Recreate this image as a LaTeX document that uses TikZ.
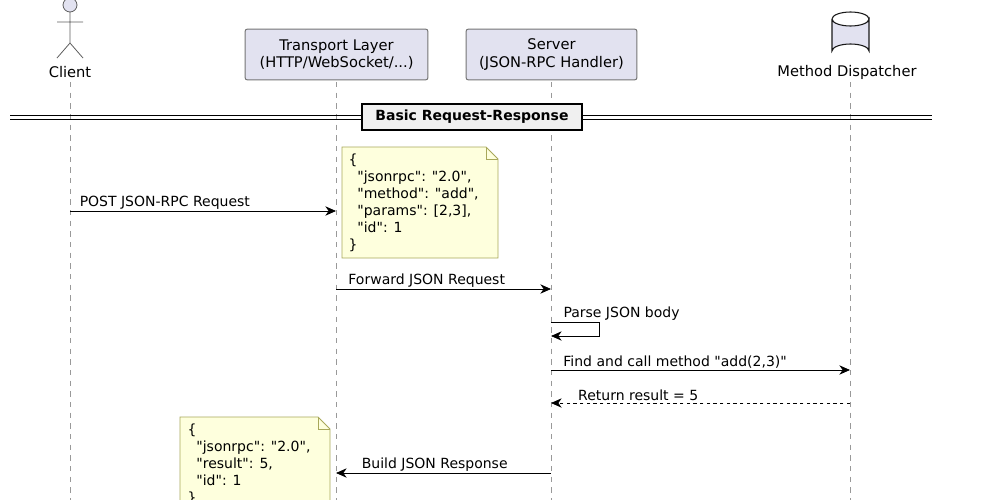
\documentclass[tikz,border=0pt]{standalone}
\usepackage{fontspec}
\setmainfont{DejaVu Sans}
\usetikzlibrary{arrows.meta,positioning}
\definecolor{partfill}{HTML}{E2E2F0}
\definecolor{partline}{HTML}{181818}
\definecolor{notefill}{HTML}{FEFFDD}
\definecolor{noteline}{HTML}{A8A85A}
\newcommand\dq{\textquotedbl}
\tikzset{every picture/.style={line width=0.75pt}}
\tikzset{
  part/.style={draw=partline!60,fill=partfill,rounded corners=1.5pt,minimum width=137pt,minimum height=38pt,align=center,font=\fontsize{11}{13}\selectfont},
  lbl/.style={font=\fontsize{10.5}{12}\selectfont,anchor=south west,inner sep=1pt},
  life/.style={draw=gray!80,dash pattern=on 4pt off 4pt,line width=0.6pt},
  msg/.style={-{Stealth[length=8pt,width=7pt,inset=2.5pt]},line width=0.65pt},
  note/.style={draw=noteline,fill=notefill,line width=0.6pt},
  notetext/.style={font=\fontsize{10.5}{12.8}\selectfont,align=left,anchor=north west,inner sep=0pt}
}
\begin{document}
\begin{tikzpicture}[x=0.75pt,y=0.75pt,yscale=-1]
	\useasboundingbox (0,0) rectangle (1000,500);

	% lifelines
	\draw [life] (70,82) -- (70,500);
	\draw [life] (336,82) -- (336,500);
	\draw [life] (551,82) -- (551,500);
	\draw [life] (850,82) -- (850,500);

	% Client actor
	\draw [draw=partline!70,fill=partfill,line width=0.6pt] (70,5) circle (7);
	\draw [partline!70,line width=0.6pt] (70,12) -- (70,43) (57,22) -- (83,22) (57,58) -- (70,43) -- (83,58);
	\node [font=\fontsize{11}{13}\selectfont] (client) at (70,72) {Client};

	% participants
	\node [part] (transport) at (336.5,54.5) {Transport Layer\\(HTTP/WebSocket/...)};
	\node [part,minimum width=128pt] (server) at (551.5,54.5) {Server\\(JSON-RPC Handler)};

	% Method Dispatcher database
	\draw [draw=partline,fill=partfill,line width=0.8pt] (832,19) -- (832,51) arc[start angle=180,end angle=360,x radius=18.5,y radius=7] -- (869,19) arc[start angle=0,end angle=180,x radius=18.5,y radius=7];
	\draw [partline,line width=0.8pt] (832,19) arc[start angle=180,end angle=360,x radius=18.5,y radius=7];
	\node [font=\fontsize{11}{13}\selectfont] (dispatcher) at (847,72) {Method Dispatcher};

	% separator
	\draw [line width=0.6pt] (10,115.5) -- (932,115.5) (10,119) -- (932,119);
	\node [draw,fill=gray!12,line width=1.4pt,minimum width=165pt,minimum height=20pt,font=\bfseries\fontsize{10.5}{12}\selectfont] (sep) at (472,117) {Basic Request-Response};

	% request note
	\draw [note] (342,147) -- (486,147) -- (498,159) -- (498,258) -- (342,258) -- cycle;
	\draw [note,fill=none] (486,147) -- (486,159) -- (498,159);
	\node [notetext] (reqnote) at (348,153) {\{\\\ \ \dq jsonrpc\dq: \dq 2.0\dq,\\\ \ \dq method\dq: \dq add\dq,\\\ \ \dq params\dq: [2,3],\\\ \ \dq id\dq: 1\\\}};

	% messages
	\coordinate (c1) at (70,211);  \coordinate (t1) at (336,211);
	\draw [msg] (c1) -- node [lbl,pos=0,above right=0pt and 6pt] {POST JSON-RPC Request} (t1);
	\coordinate (t2) at (336,289);  \coordinate (s2) at (551,289);
	\draw [msg] (t2) -- node [lbl,pos=0,above right=0pt and 8pt] {Forward JSON Request} (s2);
	\coordinate (s3) at (551,322);  \coordinate (s3b) at (551,336);
	\draw [msg] (s3) -- (599,322) -- (599,336) -- (s3b);
	\node [lbl,above right=0pt and 8pt] at (s3) {Parse JSON body};
	\coordinate (s4) at (551,370);  \coordinate (d4) at (850,370);
	\draw [msg] (s4) -- node [lbl,pos=0,above right=0pt and 8pt] {Find and call method \dq add(2,3)\dq} (d4);
	\coordinate (d5) at (850,403);  \coordinate (s5) at (551,403);
	\draw [msg,dash pattern=on 2.5pt off 2.5pt] (d5) -- (s5);
	\node [lbl,above right=0pt and 19pt] at (s5) {Return result = 5};
	\coordinate (s6) at (551,473);  \coordinate (t6) at (336,473);
	\draw [msg] (s6) -- (t6);
	\node [lbl,above right=0pt and 18pt] at (t6) {Build JSON Response};

	% response note
	\draw [note] (180,417) -- (318,417) -- (330,429) -- (330,510) -- (180,510) -- cycle;
	\draw [note,fill=none] (318,417) -- (318,429) -- (330,429);
	\node [notetext] (resnote) at (187,423) {\{\\\ \ \dq jsonrpc\dq: \dq 2.0\dq,\\\ \ \dq result\dq: 5,\\\ \ \dq id\dq: 1\\\}};
\end{tikzpicture}
\end{document}
